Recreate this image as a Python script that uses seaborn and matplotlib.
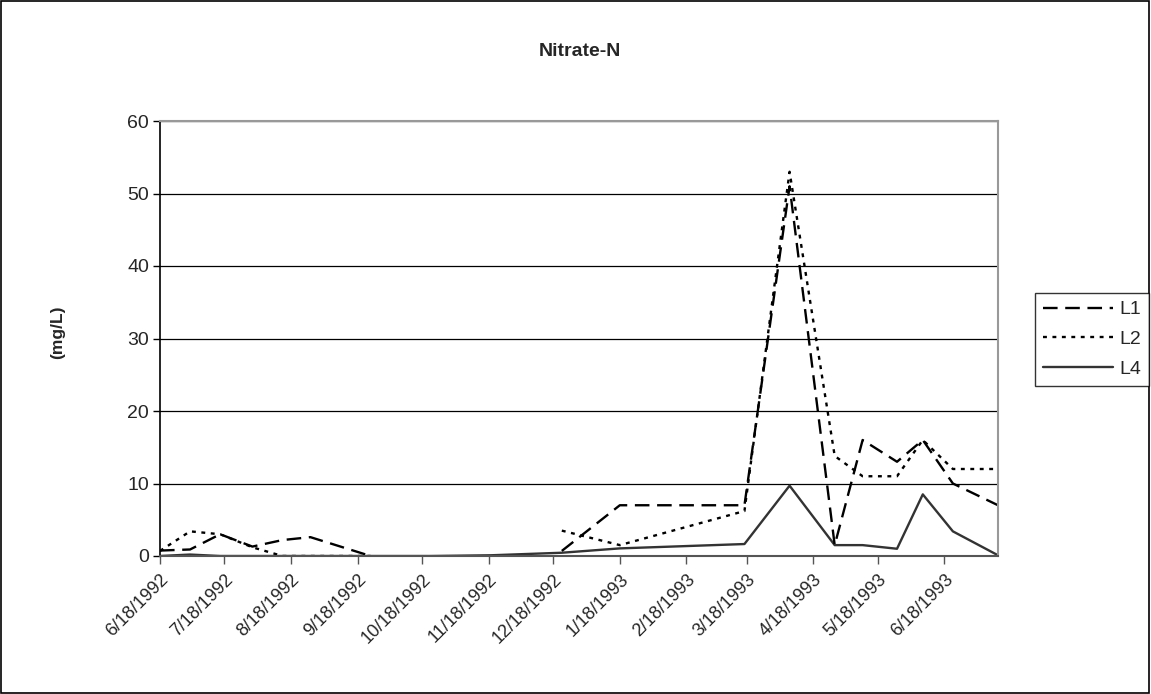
import numpy as np
import pandas as pd
import matplotlib
matplotlib.use("Agg")
import matplotlib.pyplot as plt
from matplotlib.lines import Line2D
from matplotlib.patches import Rectangle
import seaborn as sns

# ---- data ----
dates = ["1992-06-18", "1992-07-02", "1992-07-16", "1992-07-31", "1992-08-14",
         "1992-08-27", "1992-09-24", "1992-10-22", "1992-11-19", "1992-12-22",
         "1993-01-18", "1993-03-17", "1993-04-07", "1993-04-28", "1993-05-11",
         "1993-05-27", "1993-06-08", "1993-06-22", "1993-07-13"]
L1 = [0.75, 0.9, 3.0, 1.3, 2.2, 2.6, 0.0, np.nan, np.nan, 0.7,
      7.0, 7.0, 51.0, 1.5, 16.0, 13.0, 16.0, 10.0, 7.0]
L2 = [0.7, 3.4, 3.0, 1.2, 0.0, 0.0, 0.0, np.nan, np.nan, 3.5,
      1.5, 6.2, 53.0, 13.8, 11.0, 11.0, 16.0, 12.0, 12.0]
L4 = [0.0, 0.2, 0.0, 0.0, 0.0, 0.0, 0.0, 0.0, 0.1, 0.45,
      1.05, 1.65, 9.7, 1.5, 1.5, 1.0, 8.5, 3.4, 0.1]
tick_dates = ["1992-06-18", "1992-07-18", "1992-08-18", "1992-09-18", "1992-10-18",
              "1992-11-18", "1992-12-18", "1993-01-18", "1993-02-18", "1993-03-18",
              "1993-04-18", "1993-05-18", "1993-06-18"]
tick_labels = ["6/18/1992", "7/18/1992", "8/18/1992", "9/18/1992", "10/18/1992",
               "11/18/1992", "12/18/1992", "1/18/1993", "2/18/1993", "3/18/1993",
               "4/18/1993", "5/18/1993", "6/18/1993"]
title = "Nitrate-N"
ylabel = "(mg/L)"

sns.set_style("white")
plt.rcParams["font.family"] = ["Liberation Sans", "DejaVu Sans"]
plt.rcParams["lines.scale_dashes"] = False

fig = plt.figure(figsize=(11.51, 6.94), dpi=100)
ax = fig.add_axes([160 / 1151, 1 - 556 / 694, (998 - 160) / 1151, (556 - 121) / 694])

dt = pd.to_datetime(dates)


def long_df(vals, name):
    d = pd.DataFrame({"date": dt, "value": vals})
    d["seg"] = d["value"].isna().cumsum()
    d = d.dropna()
    d["series"] = name
    return d


styles = {
    "L1": dict(color="black", lw=1.7, ls=(0, (10.5, 5.5))),
    "L2": dict(color="black", lw=1.7, ls=(0, (2.8, 4.0))),
    "L4": dict(color="#333333", lw=1.7, ls="-"),
}
for name, vals in [("L4", L4), ("L2", L2), ("L1", L1)]:
    d = long_df(vals, name)
    st = styles[name]
    sns.lineplot(data=d, x="date", y="value", units="seg", estimator=None,
                 color=st["color"], linewidth=st["lw"], linestyle=st["ls"],
                 ax=ax, legend=False)

ax.set_ylim(0, 60)
ax.set_yticks(range(0, 61, 10))
ax.set_xlim(dt[0], dt[-1])
ax.set_xticks(pd.to_datetime(tick_dates))
ax.set_xticklabels(tick_labels, rotation=45, ha="right", rotation_mode="anchor",
                   fontsize=13)
ax.tick_params(axis="y", labelsize=14, length=5, width=1, direction="out",
               left=True, color="black", pad=3)
ax.tick_params(axis="x", length=6, width=1, direction="out", bottom=True,
               color="#555555", pad=5)
ax.yaxis.grid(True, color="black", linewidth=0.9)
ax.xaxis.grid(False)
ax.set_axisbelow(True)
for s in ["top", "right"]:
    ax.spines[s].set_color("#999999")
    ax.spines[s].set_linewidth(1.5)
ax.spines["left"].set_color("black")
ax.spines["left"].set_linewidth(1.2)
ax.spines["bottom"].set_color("#555555")
ax.spines["bottom"].set_linewidth(1.5)
ax.set_xlabel("")
ax.set_ylabel("")

fig.text(58 / 1151, 1 - 332 / 694, ylabel, rotation=90, ha="center", va="center",
         fontsize=12.5, fontweight="bold")
fig.text(580 / 1151, 1 - 52 / 694, title, ha="center", va="center",
         fontsize=14, fontweight="bold")

handles = [Line2D([], [], color=styles[n]["color"], lw=styles[n]["lw"],
                  ls=styles[n]["ls"]) for n in ["L1", "L2", "L4"]]
leg = fig.legend(handles, ["L1", "L2", "L4"], loc="upper left",
                 bbox_to_anchor=(1035 / 1151, 1 - 293 / 694),
                 bbox_transform=fig.transFigure, borderaxespad=0,
                 frameon=True, fancybox=False, fontsize=14,
                 handlelength=3.6, handletextpad=0.35, labelspacing=0.62,
                 borderpad=0.4)
leg.get_frame().set_edgecolor("black")
leg.get_frame().set_linewidth(1.0)

fig.patches.append(Rectangle((0.001, 0.001), 0.997, 0.997, transform=fig.transFigure,
                             fill=False, edgecolor="black", linewidth=1.2))

fig.savefig("out.png", dpi=100)
